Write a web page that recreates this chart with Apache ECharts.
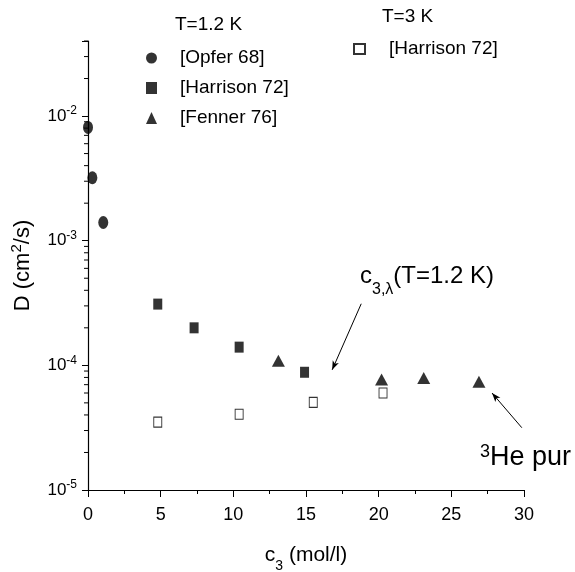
<!DOCTYPE html>
<html><head><meta charset="utf-8">
<script src="https://cdn.jsdelivr.net/npm/echarts@6/dist/echarts.min.js"></script>
<style>html,body{margin:0;padding:0;background:#fff}#c{width:575px;height:572px}</style>
</head><body><div id="c"></div>
<script>
const FONT = '"Liberation Sans Narrow","Arial Narrow","Liberation Sans",Arial,sans-serif';

// T = 1.2 K
const opferX = [0, 0.3, 1.05];
const opferD = [8.1e-3, 3.2e-3, 1.4e-3];
const harrison12X = [4.8, 7.3, 10.4, 14.9];
const harrison12D = [3.1e-4, 2.0e-4, 1.4e-4, 8.8e-5];
const fennerX = [13.1, 20.2, 23.1, 26.9];
const fennerD = [1.09e-4, 7.7e-5, 7.9e-5, 7.4e-5];
// T = 3 K
const harrison3X = [4.8, 10.4, 15.5, 20.3];
const harrison3D = [3.5e-5, 4.05e-5, 5.05e-5, 6.0e-5];

// axis ticks
const xTickStep = 5;
const yMinorTicks = [2e-5,3e-5,4e-5,5e-5,6e-5,7e-5,8e-5,9e-5,
                     2e-4,3e-4,4e-4,5e-4,6e-4,7e-4,8e-4,9e-4,
                     2e-3,3e-3,4e-3,5e-3,6e-3,7e-3,8e-3,9e-3,
                     2e-2,3e-2,4e-2];
// annotation arrows [start, end] in data coordinates
const arrowLambda = [[18.8, 3.12e-4], [16.8, 9.2e-5]];
const arrowPure = [[29.85, 3.16e-5], [27.8, 6.0e-5]];

const zip = (xs, ys) => xs.map((x, i) => [x, ys[i]]);
const NAME_H3 = '[Harrison 72] (T=3 K)';

const chart = echarts.init(document.getElementById('c'));
chart.setOption({
  backgroundColor: '#fff',
  animation: false,
  textStyle: { fontFamily: FONT, color: '#000' },
  grid: { left: 88, right: 51, top: 41, bottom: 82, containLabel: false, outerBoundsMode: 'none' },
  xAxis: {
    type: 'value', min: 0, max: 30, interval: xTickStep,
    name: '{a|c}{sub|3}{a| (mol/l)}', nameLocation: 'middle', nameGap: 55,
    nameTextStyle: { rich: {
      a: { fontSize: 21, fontFamily: FONT, color: '#000' },
      sub: { fontSize: 14, fontFamily: FONT, color: '#000', verticalAlign: 'bottom', padding: [0,0,-7,0] }
    } },
    axisLine: { show: true, onZero: false, lineStyle: { color: '#000', width: 1.2 } },
    axisTick: { show: true, length: 7, lineStyle: { color: '#000' } },
    minorTick: { show: true, splitNumber: 2, length: 4, lineStyle: { color: '#000' } },
    splitLine: { show: false },
    axisLabel: { fontSize: 18, color: '#000', margin: 16, fontFamily: FONT }
  },
  yAxis: {
    type: 'log', logBase: 10, min: 1e-5, max: 0.04,
    name: 'D (cm{sup|2}/s)', nameLocation: 'middle', nameGap: 52, nameRotate: 90,
    nameTextStyle: { fontSize: 22, fontFamily: FONT, color: '#000', rich: {
      sup: { fontSize: 15, fontFamily: FONT, color: '#000', verticalAlign: 'top', padding: [0,0,12,0] }
    } },
    axisLine: { show: true, lineStyle: { color: '#000', width: 1.2 } },
    axisTick: { show: true, length: 6, lineStyle: { color: '#000' } },
    minorTick: { show: false },
    splitLine: { show: false },
    axisLabel: {
      margin: 11, color: '#000',
      formatter: v => {
        const e = Math.round(Math.log10(v));
        if (Math.abs(Math.log10(v) - e) > 1e-6) return '';
        return '{b|10}{s|' + e + '}';
      },
      rich: {
        b: { fontSize: 17, fontFamily: FONT, color: '#000' },
        s: { fontSize: 12, fontFamily: FONT, color: '#000', verticalAlign: 'top', padding: [0,0,10,0] }
      }
    }
  },
  legend: [
    {
      orient: 'vertical', left: 146, top: 46, padding: 0, itemWidth: 11, itemHeight: 12, itemGap: 6,
      data: ['[Opfer 68]', '[Harrison 72]', '[Fenner 76]'],
      textStyle: { fontSize: 19, lineHeight: 24, fontFamily: FONT, color: '#000', padding: [0,0,0,18] },
      selectedMode: false
    },
    {
      orient: 'vertical', left: 353, top: 37, padding: 0, itemWidth: 11, itemHeight: 10,
      data: [NAME_H3],
      formatter: n => n.replace(' (T=3 K)', ''),
      textStyle: { fontSize: 19, lineHeight: 24, fontFamily: FONT, color: '#000', padding: [0,0,0,19] },
      selectedMode: false
    }
  ],
  graphic: [
    { type: 'text', left: 175, top: 15, style: { text: 'T=1.2 K', fontSize: 19, fontFamily: FONT, fill: '#000' } },
    { type: 'text', left: 382, top: 7, style: { text: 'T=3 K', fontSize: 19, fontFamily: FONT, fill: '#000' } },
    { type: 'text', left: 360, top: 264, style: {
        text: '{a|c}{sub|3,λ}{a|(T=1.2 K)}', fill: '#000',
        rich: {
          a: { fontSize: 24, fontFamily: FONT, fill: '#000' },
          sub: { fontSize: 16, fontFamily: FONT, fill: '#000', verticalAlign: 'bottom', padding: [0,0,-10,0] }
        } } },
    { type: 'text', left: 480, top: 443, style: {
        text: '{sup|3}{a|He pur}', fill: '#000',
        rich: {
          a: { fontSize: 27, fontFamily: FONT, fill: '#000' },
          sup: { fontSize: 18, fontFamily: FONT, fill: '#000', verticalAlign: 'top', padding: [0,0,12,0] }
        } } }
  ],
  series: [
    { name: '[Opfer 68]', type: 'scatter', symbol: 'circle', symbolSize: [10, 13],
      itemStyle: { color: '#000' }, data: zip(opferX, opferD) },
    { name: '[Harrison 72]', type: 'scatter', symbol: 'rect', symbolSize: [9, 11],
      itemStyle: { color: '#000' }, data: zip(harrison12X, harrison12D) },
    { name: '[Fenner 76]', type: 'scatter', symbol: 'triangle', symbolSize: [13, 12],
      itemStyle: { color: '#000' }, data: zip(fennerX, fennerD),
      markLine: {
        silent: true, symbol: ['none', 'arrow'], symbolSize: [5, 9], animation: false,
        label: { show: false },
        lineStyle: { color: '#000', width: 1, type: 'solid' },
        data: [
          [{ coord: arrowLambda[0] }, { coord: arrowLambda[1] }],
          [{ coord: arrowPure[0] }, { coord: arrowPure[1] }]
        ]
      } },
    { name: NAME_H3, type: 'scatter', symbol: 'rect', symbolSize: [8, 10],
      itemStyle: { color: '#fff', borderColor: '#000', borderWidth: 1 }, data: zip(harrison3X, harrison3D) },
    { type: 'custom', silent: true, clip: false, z: 5,
      data: yMinorTicks.map(v => [0, v]),
      renderItem: (p, api) => {
        const pt = api.coord([0, api.value(1)]);
        return { type: 'line', shape: { x1: pt[0] - 4, y1: pt[1], x2: pt[0], y2: pt[1] },
                 style: { stroke: '#000', lineWidth: 1 } };
      } }
  ]
});
</script></body></html>
